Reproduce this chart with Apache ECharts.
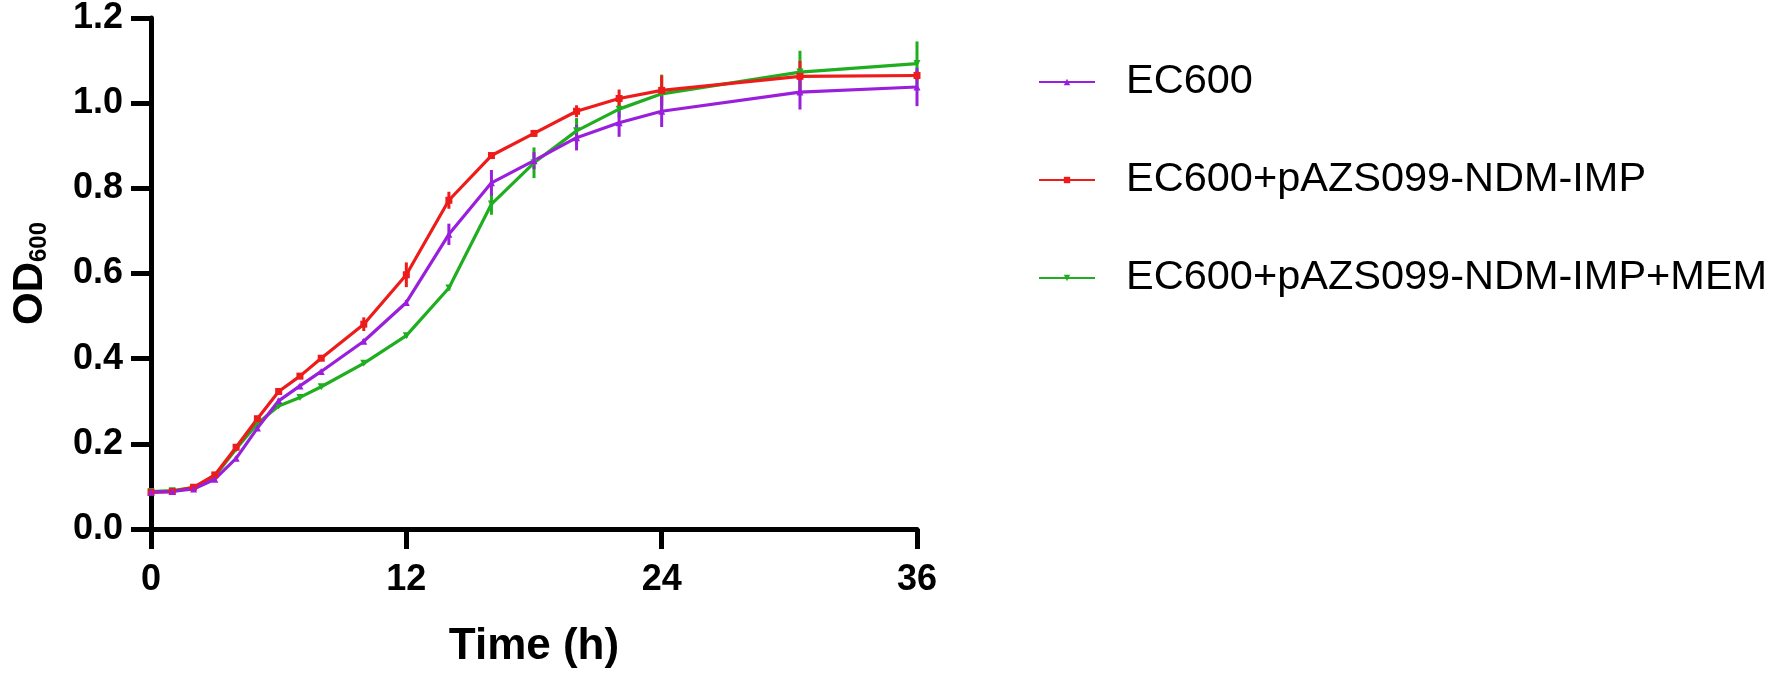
<!DOCTYPE html>
<html>
<head>
<meta charset="utf-8">
<script src="https://cdn.jsdelivr.net/npm/echarts@6/dist/echarts.min.js"></script>
<style>
  html, body { margin: 0; padding: 0; background: #fff; }
  #chart { width: 1772px; height: 675px; }
</style>
</head>
<body>
<div id="chart"></div>
<script>
"use strict";

// sampling times (h)
const hours = [0, 1, 2, 3, 4, 5, 6, 7, 8, 10, 12, 14, 16, 18, 20, 22, 24, 30.5, 36];

const seriesNames = ['EC600', 'EC600+pAZS099-NDM-IMP', 'EC600+pAZS099-NDM-IMP+MEM'];

// mean OD600
const ec600 = [0.087, 0.088, 0.094, 0.117, 0.166, 0.237, 0.301, 0.336, 0.370, 0.441, 0.532, 0.692, 0.813, 0.865, 0.919, 0.954, 0.981, 1.026, 1.038];
const ndmImp = [0.086, 0.088, 0.098, 0.127, 0.192, 0.259, 0.323, 0.359, 0.401, 0.481, 0.597, 0.772, 0.877, 0.929, 0.981, 1.011, 1.030, 1.063, 1.065];
const ndmImpMem = [0.088, 0.090, 0.097, 0.124, 0.188, 0.248, 0.289, 0.309, 0.334, 0.389, 0.454, 0.566, 0.763, 0.860, 0.935, 0.986, 1.022, 1.073, 1.093];

// error bars (SD)
const ec600Err = [0.003, 0.003, 0.003, 0.004, 0.004, 0.005, 0.005, 0.004, 0.004, 0.005, 0.006, 0.025, 0.030, 0.020, 0.030, 0.033, 0.037, 0.041, 0.045];
const ndmImpErr = [0.003, 0.003, 0.003, 0.004, 0.005, 0.006, 0.005, 0.005, 0.006, 0.016, 0.029, 0.020, 0.006, 0.008, 0.014, 0.021, 0.035, 0.036, 0.010];
const ndmImpMemErr = [0.003, 0.003, 0.003, 0.003, 0.004, 0.004, 0.004, 0.004, 0.004, 0.004, 0.005, 0.006, 0.025, 0.036, 0.030, 0.020, 0.045, 0.050, 0.052];

const xTicks = [0, 12, 24, 36];
const yTicks = [0, 0.2, 0.4, 0.6, 0.8, 1.0, 1.2];

const colors = ['#9a1fdc', '#ee1b1b', '#1fae1f'];
const FONT = '"Liberation Sans", Arial, sans-serif';

function pairs(values) {
  return hours.map((h, i) => [h, values[i]]);
}

// vertical SD bars, no caps
function errorBars(name, values, errs, color) {
  return {
    name: name + ' SD',
    type: 'custom',
    silent: true,
    data: hours.map((h, i) => [h, values[i] - errs[i], values[i] + errs[i]]),
    renderItem: function (params, api) {
      const lo = api.coord([api.value(0), api.value(1)]);
      const hi = api.coord([api.value(0), api.value(2)]);
      return {
        type: 'line',
        shape: { x1: lo[0], y1: lo[1], x2: hi[0], y2: hi[1] },
        style: { stroke: color, lineWidth: 3 }
      };
    },
    z: 3
  };
}

function lineSeries(name, values, color, symbol, rotate) {
  return {
    name: name,
    type: 'line',
    data: pairs(values),
    color: color,
    symbol: symbol,
    symbolSize: 7,
    symbolRotate: rotate || 0,
    lineStyle: { width: 3.2, color: color },
    itemStyle: { color: color },
    z: 4
  };
}

var chart = echarts.init(document.getElementById('chart'));
chart.setOption({
  animation: false,
  backgroundColor: '#fff',
  grid: {
    left: 151,
    top: 17,
    width: 766,
    height: 512,
    containLabel: false
  },
  legend: {
    left: 1033,
    top: 56,
    orient: 'vertical',
    itemWidth: 56,
    itemHeight: 8,
    itemGap: 56,
    data: seriesNames,
    textStyle: {
      fontFamily: FONT,
      fontSize: 41.5,
      lineHeight: 42,
      color: '#000',
      padding: [0, 0, 0, 26]
    }
  },
  xAxis: {
    type: 'value',
    min: 0,
    max: 36,
    interval: 12,
    name: 'Time (h)',
    nameLocation: 'middle',
    nameGap: 96,
    nameTextStyle: { fontFamily: FONT, fontSize: 44, fontWeight: 'bold', color: '#000' },
    axisLine: { onZero: false, lineStyle: { color: '#000', width: 5 } },
    axisTick: { length: 20, lineStyle: { width: 5, color: '#000' } },
    axisLabel: {
      margin: 33,
      fontFamily: FONT, fontSize: 36, fontWeight: 'bold', color: '#000',
      formatter: v => xTicks.indexOf(v) >= 0 ? String(v) : ''
    },
    splitLine: { show: false }
  },
  yAxis: {
    type: 'value',
    min: 0,
    max: 1.2,
    interval: 0.2,
    name: '{a|OD}{b|600}',
    nameLocation: 'middle',
    nameGap: 100,
    nameTextStyle: {
      rich: {
        a: { fontFamily: FONT, fontSize: 42, fontWeight: 'bold', color: '#000', verticalAlign: 'bottom', lineHeight: 48 },
        b: { fontFamily: FONT, fontSize: 24, fontWeight: 'bold', color: '#000', verticalAlign: 'bottom', lineHeight: 48, padding: [14, 0, 0, 0] }
      }
    },
    axisLine: { show: true, lineStyle: { color: '#000', width: 5 } },
    axisTick: { length: 20, lineStyle: { width: 5, color: '#000' } },
    axisLabel: {
      margin: 28,
      fontFamily: FONT, fontSize: 36, fontWeight: 'bold', color: '#000',
      formatter: v => yTicks.some(t => Math.abs(t - v) < 1e-9) ? v.toFixed(1) : ''
    },
    splitLine: { show: false }
  },
  series: [
    errorBars(seriesNames[2], ndmImpMem, ndmImpMemErr, colors[2]),
    lineSeries(seriesNames[2], ndmImpMem, colors[2], 'triangle', 180),
    errorBars(seriesNames[1], ndmImp, ndmImpErr, colors[1]),
    lineSeries(seriesNames[1], ndmImp, colors[1], 'rect'),
    errorBars(seriesNames[0], ec600, ec600Err, colors[0]),
    lineSeries(seriesNames[0], ec600, colors[0], 'triangle')
  ]
});
</script>
</body>
</html>
